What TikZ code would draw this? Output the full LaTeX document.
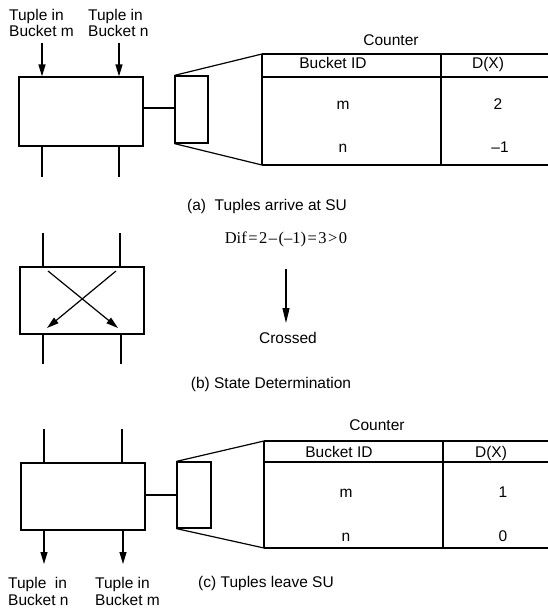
\documentclass[tikz,border=0pt]{standalone}
\usepackage{fontspec}
\setmainfont{Liberation Sans}
\newfontfamily\timesfont{Liberation Serif}
\usetikzlibrary{arrows.meta}
\begin{document}
\begin{tikzpicture}[x=1pt,y=-1pt,
  su/.style={draw,line width=1.2pt,inner sep=0pt},
  smallbox/.style={draw,line width=1.2pt,inner sep=0pt},
  wire/.style={line width=1.2pt},
  thickwire/.style={line width=2.8pt},
  tbl/.style={line width=1.3pt},
  arr/.style={line width=1.2pt,-{Triangle[length=12pt,width=7pt]}},
  lbl/.style={font=\fontsize{15.5}{14}\selectfont,align=left,inner sep=0pt,anchor=base west},
  lblc/.style={font=\fontsize{15.5}{17}\selectfont,align=left,inner sep=0pt,anchor=base west},
  txt/.style={font=\fontsize{15.5}{14}\selectfont,inner sep=0pt,anchor=base}
]
\useasboundingbox (0,0) rectangle (547,608);

% ---------- (a) ----------
\node[lbl] (ta1) at (9,36) {Tuple in\\Bucket m};
\node[lbl] (ta2) at (88,36) {Tuple in\\Bucket n};
\node[su,minimum width=124pt,minimum height=69pt] (sua) at (81,111.5) {};
\coordinate (ia1) at (42,43);
\coordinate (ia2) at (119,43);
\draw[arr] (ia1) -- (ia1 |- sua.north);
\draw[arr] (ia2) -- (ia2 |- sua.north);
\coordinate (oa1) at (42,177);
\coordinate (oa2) at (119,177);
\draw[wire] (oa1 |- sua.south) -- (oa1);
\draw[wire] (oa2 |- sua.south) -- (oa2);
\node[smallbox,minimum width=33pt,minimum height=67pt] (sba) at (191.5,109.5) {};
\draw[thickwire] (sua.east |- 0,108) -- (sba.west |- 0,108);
\coordinate (tatl) at (262,54);
\coordinate (tabl) at (262,165);
\draw[wire] (sba.north west) -- (tatl);
\draw[wire] (sba.south west) -- (tabl);
\draw[tbl] (tatl) -- (tabl);
\draw[tbl] (tatl) -- (560,54);
\draw[tbl] (262,77) -- (560,77);
\draw[tbl] (tabl) -- (560,165);
\draw[tbl] (441,54) -- (441,165);
\node[txt] (ca) at (391,45.5) {Counter};
\node[txt] (bia) at (333,68.5) {Bucket ID};
\node[txt] (dxa) at (488,68.5) {D(X)};
\node[txt] (ma) at (343,109.5) {m};
\node[txt] (va1) at (498,109.5) {2};
\node[txt] (na) at (343,152) {n};
\node[txt] (va2) at (500,152) {\char"2013 1};
\node[txt] (capa) at (267,210.5) {(a)\ \ Tuples arrive at SU};

% ---------- (b) ----------
\node[su,minimum width=124pt,minimum height=67pt] (sub) at (82,300.5) {};
\coordinate (ib1) at (43,233);
\coordinate (ib2) at (120,233);
\draw[wire] (ib1) -- (ib1 |- sub.north);
\draw[wire] (ib2) -- (ib2 |- sub.north);
\coordinate (ob1) at (43,364);
\coordinate (ob2) at (121,364);
\draw[wire] (ob1 |- sub.south) -- (ob1);
\draw[wire] (ob2 |- sub.south) -- (ob2);
\coordinate (xa1) at (48,271);
\coordinate (xa2) at (118,328);
\coordinate (xb1) at (116,271);
\coordinate (xb2) at (47,328);
\draw[arr] (xa1) -- (xa2);
\draw[arr] (xb1) -- (xb2);
\node[font=\timesfont\fontsize{16.5}{14}\selectfont,inner sep=0pt,anchor=base] (dif) at (286,243) {Dif\kern1.5pt=\kern1.5pt2\kern1.5pt\char"2013\kern1.5pt(\char"2013 1)\kern1.5pt=\kern1.5pt3\kern1.5pt>\kern1.5pt0};
\node[txt] (cr) at (288,343.5) {Crossed};
\coordinate (da1) at (286,269);
\coordinate (da2) at (286,323);
\draw[line width=1.2pt,-{Triangle[length=15pt,width=7pt]}] (da1) -- (da2);
\node[txt] (capb) at (271,388) {(b) State Determination};

% ---------- (c) ----------
\node[su,minimum width=124pt,minimum height=67pt] (suc) at (83,496.5) {};
\coordinate (ic1) at (44,429);
\coordinate (ic2) at (122,429);
\draw[wire] (ic1) -- (ic1 |- suc.north);
\draw[wire] (ic2) -- (ic2 |- suc.north);
\coordinate (oc1) at (44,564);
\coordinate (oc2) at (123,564);
\draw[arr] (oc1 |- suc.south) -- (oc1);
\draw[arr] (oc2 |- suc.south) -- (oc2);
\node[smallbox,minimum width=34pt,minimum height=66pt] (sbc) at (194,495) {};
\draw[thickwire] (suc.east |- 0,495) -- (sbc.west |- 0,495);
\coordinate (tctl) at (264,441);
\coordinate (tcbl) at (264,548);
\draw[wire] (sbc.north west) -- (tctl);
\draw[wire] (sbc.south west) -- (tcbl);
\draw[tbl] (tctl) -- (tcbl);
\draw[tbl] (tctl) -- (560,441);
\draw[tbl] (264,462) -- (560,462);
\draw[tbl] (tcbl) -- (560,548);
\draw[tbl] (443,441) -- (443,548);
\node[txt] (cc) at (377,430.5) {Counter};
\node[txt] (bic) at (339,457.5) {Bucket ID};
\node[txt] (dxc) at (491,457.5) {D(X)};
\node[txt] (mc) at (346,497) {m};
\node[txt] (vc1) at (503,497) {1};
\node[txt] (nc) at (346,541) {n};
\node[txt] (vc2) at (503,541) {0};
\node[lblc] (tc1) at (8,605) {Tuple\ \ in\\Bucket n};
\node[lblc] (tc2) at (95,605) {Tuple in\\Bucket m};
\node[txt] (capc) at (266,587.5) {(c) Tuples leave SU};
\end{tikzpicture}
\end{document}
